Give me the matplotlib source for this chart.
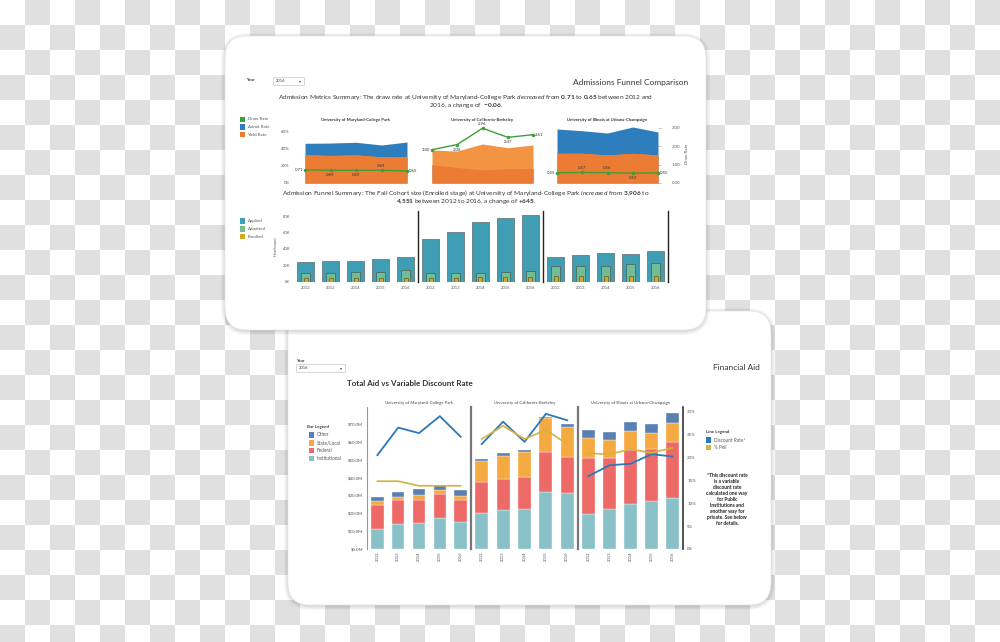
import numpy as np
import matplotlib.pyplot as plt
from matplotlib.patches import FancyBboxPatch, Rectangle
from matplotlib.colors import ListedColormap

plt.rcParams['font.family'] = ['Lato', 'DejaVu Sans']
plt.rcParams['mathtext.fontset'] = 'custom'
plt.rcParams['mathtext.rm'] = 'Lato'
plt.rcParams['mathtext.it'] = 'Lato:italic'
plt.rcParams['mathtext.bf'] = 'Lato:bold'

W, H = 1000, 642

# ---------------------------------------------------------------- data
years = [2012, 2013, 2014, 2015, 2016]
year_labels = [str(y) for y in years]
schools = ["University of Maryland-College Park",
           "University of California-Berkeley",
           "University of Illinois at Urbana-Champaign"]

# admissions metrics (rates in %, draw rate as ratio)
admit_rate = [[46.7, 47.0, 47.9, 44.7, 48.2],
              [21.5, 18.1, 15.5, 16.8, 17.1],
              [63.5, 61.5, 58.8, 65.9, 60.0]]
yield_rate = [[33.2, 32.4, 33.0, 30.8, 31.3],
              [38.8, 37.6, 45.9, 41.5, 44.7],
              [34.9, 35.0, 32.9, 34.9, 33.0]]
draw_rate = [[0.71, 0.69, 0.69, 0.69, 0.65],
             [1.80, 2.08, 2.96, 2.47, 2.61],
             [0.55, 0.57, 0.56, 0.53, 0.55]]
draw_label_side = [['l', 'b', 'b', 'a', 'r'],
                   ['l', 'b', 'a', 'b', 'r'],
                   ['l', 'a', 'a', 'b', 'r']]

# admission funnel headcount (thousands)
applied = [[24.3, 25.0, 25.0, 27.6, 29.7],
           [52.0, 61.0, 73.0, 78.0, 82.0],
           [30.5, 32.5, 35.0, 33.7, 37.0]]
admitted = [[10.8, 11.0, 11.6, 11.5, 13.7],
            [10.0, 10.0, 10.8, 12.0, 13.3],
            [19.0, 19.5, 19.5, 21.5, 22.3]]
enrolled = [[3.906, 4.0, 4.1, 3.9, 4.551],
            [4.0, 3.8, 5.0, 5.0, 5.9],
            [6.6, 6.8, 6.5, 7.0, 7.3]]

# financial aid ($M, stacked segments)
aid_institutional = [[11.2, 14.2, 14.6, 17.5, 15.1],
                     [20.3, 21.8, 22.6, 31.7, 31.4],
                     [19.4, 22.2, 25.0, 27.0, 28.7]]
aid_federal = [[13.4, 13.1, 12.7, 13.3, 12.2],
               [17.2, 17.6, 17.9, 22.4, 20.3],
               [31.7, 28.9, 30.4, 29.0, 31.4]]
aid_state = [[2.3, 1.8, 3.1, 2.4, 2.5],
             [11.8, 12.9, 13.6, 19.1, 16.8],
             [11.2, 9.9, 10.8, 9.1, 10.6]]
aid_other = [[2.4, 2.6, 3.0, 2.5, 3.4],
             [1.3, 1.3, 1.3, 0.7, 1.7],
             [4.3, 4.3, 5.1, 4.7, 5.6]]
discount_rate = [[20.5, 26.5, 25.3, 29.0, 24.5],
                 [22.9, 27.8, 23.4, 29.5, 28.1],
                 [15.9, 18.3, 18.6, 20.7, 20.2]]
pct_pell = [[14.8, 14.8, 13.8, 13.8, 13.8],
            [24.0, 26.9, 24.0, 26.0, 22.9],
            [20.9, 20.7, 21.8, 21.0, 22.1]]

footnote = ["*This discount rate", "is a variable", "discount rate",
            "calculated one way", "for Public", "Institutions and",
            "another way for", "private. See below", "for details."]

# ---------------------------------------------------------------- colours
GREEN = '#3E9F3B'
BLUE = '#2E7EBE'
ORANGE_DK = '#EC7B34'
ORANGE_LT = '#F39443'
TEAL = '#3F9DB4'
MINT = '#6FBE98'
GOLD = '#D6A722'
C_INST = '#8AC0C8'
C_FED = '#EE6A66'
C_STATE = '#F5A941'
C_OTHER = '#5A7FB3'
C_DISC = '#2C78B8'
C_PELL = '#D3B33E'
TXT = '#333333'
TICK = '#555555'

fig = plt.figure(figsize=(W / 100, H / 100), dpi=100)


def px_ax(x0, y0, x1, y1):
    a = fig.add_axes([x0 / W, 1 - y1 / H, (x1 - x0) / W, (y1 - y0) / H])
    a.set_facecolor('none')
    return a


# background checkerboard + cards
bg = fig.add_axes([0, 0, 1, 1])
board = np.indices((26, 40)).sum(axis=0) % 2
bg.imshow(board, cmap=ListedColormap(['#FFFFFF', '#E0E0E0']),
          extent=(0, 1000, 650, 0), interpolation='nearest', aspect='auto', zorder=0)
bg.set_xlim(0, W)
bg.set_ylim(H, 0)
bg.axis('off')


def card(x0, y0, x1, y1, z):
    for k in range(1, 6):
        bg.add_patch(FancyBboxPatch((x0 - k + 1, y0 - k + 2), x1 - x0 + 2 * k - 2, y1 - y0 + 2 * k - 2,
                                    boxstyle=f"round,pad=0,rounding_size={22 + k}",
                                    fc='black', alpha=0.03, lw=0, zorder=z))
    bg.add_patch(FancyBboxPatch((x0, y0), x1 - x0, y1 - y0,
                                boxstyle="round,pad=0,rounding_size=22",
                                fc='white', ec='#E6E6E6', lw=0.5, zorder=z + 0.5))


card(288, 311, 771, 605, 1)
card(225, 36, 706, 330, 3)


def t(x, y, s, size=3, **kw):
    kw.setdefault('color', TXT)
    kw.setdefault('va', 'center')
    bg.text(x, y, s, fontsize=size, zorder=10, **kw)


def swatch(x, y, c, label, size=3.2):
    bg.add_patch(Rectangle((x, y - 2.7), 5.4, 5.4, fc=c, ec='none', zorder=10))
    t(x + 7.5, y, label, size=size, color=TICK)


def dropdown(x0, y0, x1, y1):
    bg.add_patch(Rectangle((x0, y0), x1 - x0, y1 - y0, fc='white', ec='#C8C8C8', lw=0.5, zorder=10))
    t(x0 + 2.5, (y0 + y1) / 2, '2016', size=2.9)
    t(x1 - 3, (y0 + y1) / 2, '▾', size=2.8, ha='right', family='DejaVu Sans')


# ================================================================ card 1
t(246, 80, 'Year', size=3.0, fontweight='bold')
dropdown(273, 77, 304, 84.5)
t(688, 82, 'Admissions Funnel Comparison', size=6.0, ha='right')

d0, d1 = draw_rate[0][0], draw_rate[0][-1]
t(466, 97, r"Admission Metrics Summary: The draw rate at University of Maryland-College Park "
           r"$\mathit{decreased}$ from $\mathbf{%.2f}$ to $\mathbf{%.2f}$ between 2012 and" % (d0, d1),
  size=4.65, ha='center')
t(466, 106, r"2016, a change of  $\mathbf{{-}%.2f}$." % abs(d1 - d0), size=4.65, ha='center')

swatch(240, 119.5, GREEN, 'Draw Rate')
swatch(240, 127, BLUE, 'Admit Rate')
swatch(240, 134.5, ORANGE_DK, 'Yield Rate')

area_x = [(305, 407), (432, 533), (557, 658)]
title_cx = [355, 482, 607]
for i, (x0, x1) in enumerate(area_x):
    t(title_cx[i], 119.5, schools[i], size=3.05, ha='center', fontweight='bold')
    ax = px_ax(x0, 124, x1, 183)
    adm = np.array(admit_rate[i])
    yl = np.array(yield_rate[i])
    ax.fill_between(years, 0, adm, color=BLUE, lw=0)
    ax.fill_between(years, 0, yl, color=ORANGE_LT, lw=0)
    ax.fill_between(years, 0, np.minimum(adm, yl), color=ORANGE_DK, lw=0)
    ax.set_xlim(years[0], years[-1])
    ax.set_ylim(0, 69.4)
    for s in ax.spines.values():
        s.set_visible(False)
    ax.set_xticks([])
    if i == 0:
        ax.set_yticks([0, 20, 40, 60])
        ax.set_yticklabels(['0%', '20%', '40%', '60%'], fontsize=3.2, color=TICK)
        ax.tick_params(axis='y', length=0, pad=11)
    else:
        ax.set_yticks([])
    axd = ax.twinx()
    axd.set_ylim(0, 3.19)
    axd.plot(years, draw_rate[i], color=GREEN, lw=1.0, marker='o', ms=1.5, clip_on=False)
    for s in axd.spines.values():
        s.set_visible(False)
    if i == 2:
        axd.set_yticks([0, 1, 2, 3])
        axd.set_yticklabels(['0.00', '1.00', '2.00', '3.00'], fontsize=3.2, color=TICK)
        axd.tick_params(axis='y', length=2, width=0.4, color='#999999', pad=8)
        axd.set_ylabel('Draw Rate', fontsize=3.2, color=TICK, labelpad=3)
    else:
        axd.set_yticks([])
    for yr, v, side in zip(years, draw_rate[i], draw_label_side[i]):
        off = {'l': ((-1.5, 0), 'right', 'center'), 'r': ((1.5, 0), 'left', 'center'),
               'a': ((0, 1.8), 'center', 'bottom'), 'b': ((0, -2.2), 'center', 'top')}[side]
        axd.annotate(f'{v:.2f}', (yr, v), xytext=off[0], textcoords='offset points',
                     ha=off[1], va=off[2], fontsize=3.1, color=TXT, annotation_clip=False)

e0, e1 = enrolled[0][0] * 1000, enrolled[0][-1] * 1000
t(466, 193.3, r"Admission Funnel Summary: The Fall Cohort size (Enrolled stage) at University of Maryland-College Park "
              r"$\mathit{increased}$ from $\mathbf{%s}$ to" % f"{e0:,.0f}".replace(',', '{,}'),
  size=4.65, ha='center')
t(466, 201.5, r"$\mathbf{%s}$ between 2012 to 2016, a change of $\mathbf{{+}%d}$." % (
    f"{e1:,.0f}".replace(',', '{,}'), round(e1 - e0)), size=4.65, ha='center')

swatch(240, 221, TEAL, 'Applied')
swatch(240, 229, MINT, 'Admitted')
swatch(240, 236.7, GOLD, 'Enrolled')
t(276, 246, 'Headcount', size=3.0, rotation=90, ha='center', color=TICK)

bar_x = [(293, 418), (418, 543), (543, 668)]
xs = np.arange(len(years))
for i, (x0, x1) in enumerate(bar_x):
    ax = px_ax(x0, 211, x1, 281.5)
    ax.bar(xs, applied[i], width=0.7, color=TEAL, edgecolor='#6A7A7E', lw=0.6)
    ax.bar(xs, admitted[i], width=0.38, color=MINT, edgecolor='#4E6A5E', lw=0.6)
    ax.bar(xs, enrolled[i], width=0.16, color=GOLD, edgecolor='#6A5A2A', lw=0.5)
    ax.set_xlim(-0.5, 4.5)
    ax.set_ylim(0, 86.5)
    for k in ('top', 'left', 'bottom'):
        ax.spines[k].set_visible(False)
    ax.spines['right'].set_color('#222222')
    ax.spines['right'].set_linewidth(1.0)
    ax.set_xticks(xs)
    ax.set_xticklabels(year_labels, fontsize=3.0, color=TICK)
    ax.tick_params(axis='x', length=0, pad=3)
    if i == 0:
        ax.set_yticks([0, 20, 40, 60, 80])
        ax.set_yticklabels(['0K', '20K', '40K', '60K', '80K'], fontsize=3.0, color=TICK)
        ax.tick_params(axis='y', length=0, pad=2)
    else:
        ax.set_yticks([])

# ================================================================ card 2
t(296, 361, 'Year', size=3.0, fontweight='bold')
dropdown(296, 364, 345, 372)
t(760, 367, 'Financial Aid', size=6.0, ha='right')
t(347, 384, 'Total Aid vs Variable Discount Rate', size=5.8, fontweight='bold')

t(307, 427, 'Bar Legend', size=3.2, fontweight='bold')
swatch(309, 435, C_OTHER, 'Other', size=3.4)
swatch(309, 442.8, C_STATE, 'State/Local', size=3.4)
swatch(309, 450.6, C_FED, 'Federal', size=3.4)
swatch(309, 458.5, C_INST, 'Institutional', size=3.4)

t(706, 432.3, 'Line Legend', size=3.2, fontweight='bold')
swatch(706, 440, C_DISC, 'Discount Rate*', size=3.4)
swatch(706, 447.4, C_PELL, '% Pell', size=3.4)
for k, line in enumerate(footnote):
    t(727, 475.5 + 5.95 * k, line, size=3.5, ha='center', fontweight='bold', color='#222222')

fa_x = [(367, 471), (471, 578), (578, 683)]
for i, (x0, x1) in enumerate(fa_x):
    t((x0 + x1) / 2, 403, schools[i], size=3.1, ha='center', color='#444444')
    ax = px_ax(x0, 407, x1, 549)
    bottom = np.zeros(len(years))
    for seg, c in ((aid_institutional, C_INST), (aid_federal, C_FED),
                   (aid_state, C_STATE), (aid_other, C_OTHER)):
        ax.bar(xs, seg[i], width=0.6, bottom=bottom, color=c, edgecolor='white', lw=0.25)
        bottom += np.array(seg[i])
    ax.set_xlim(-0.5, 4.5)
    ax.set_ylim(0, 79.5)
    ax.spines['top'].set_visible(False)
    ax.spines['bottom'].set_visible(False)
    if i == 0:
        ax.spines['left'].set_color('#9A9A9A')
        ax.spines['left'].set_linewidth(0.8)
        ax.set_yticks(np.arange(0, 71, 10))
        ax.set_yticklabels([f'${v:.1f}M' for v in np.arange(0, 71, 10)], fontsize=3.2, color=TICK)
        ax.tick_params(axis='y', length=0, pad=3)
    else:
        ax.spines['left'].set_visible(False)
        ax.set_yticks([])
    ax.spines['right'].set_color('#777777')
    ax.spines['right'].set_linewidth(1.6)
    ax.set_xticks(xs)
    ax.set_xticklabels(year_labels, fontsize=3.0, color=TICK, rotation=90)
    ax.tick_params(axis='x', length=0, pad=2)
    axr = ax.twinx()
    axr.set_ylim(0, 31.0)
    axr.plot(xs, discount_rate[i], color=C_DISC, lw=1.3)
    axr.plot(xs, pct_pell[i], color=C_PELL, lw=1.2)
    for s in axr.spines.values():
        s.set_visible(False)
    if i == 2:
        axr.spines['right'].set_visible(True)
        axr.spines['right'].set_color('#333333')
        axr.spines['right'].set_linewidth(1.2)
        ax.spines['right'].set_visible(False)
        axr.set_yticks(np.arange(0, 31, 5))
        axr.set_yticklabels([f'{v}%' for v in range(0, 31, 5)], fontsize=3.2, color=TICK)
        axr.tick_params(axis='y', length=0, pad=3)
    else:
        axr.set_yticks([])

fig.savefig('out.png', dpi=100)
